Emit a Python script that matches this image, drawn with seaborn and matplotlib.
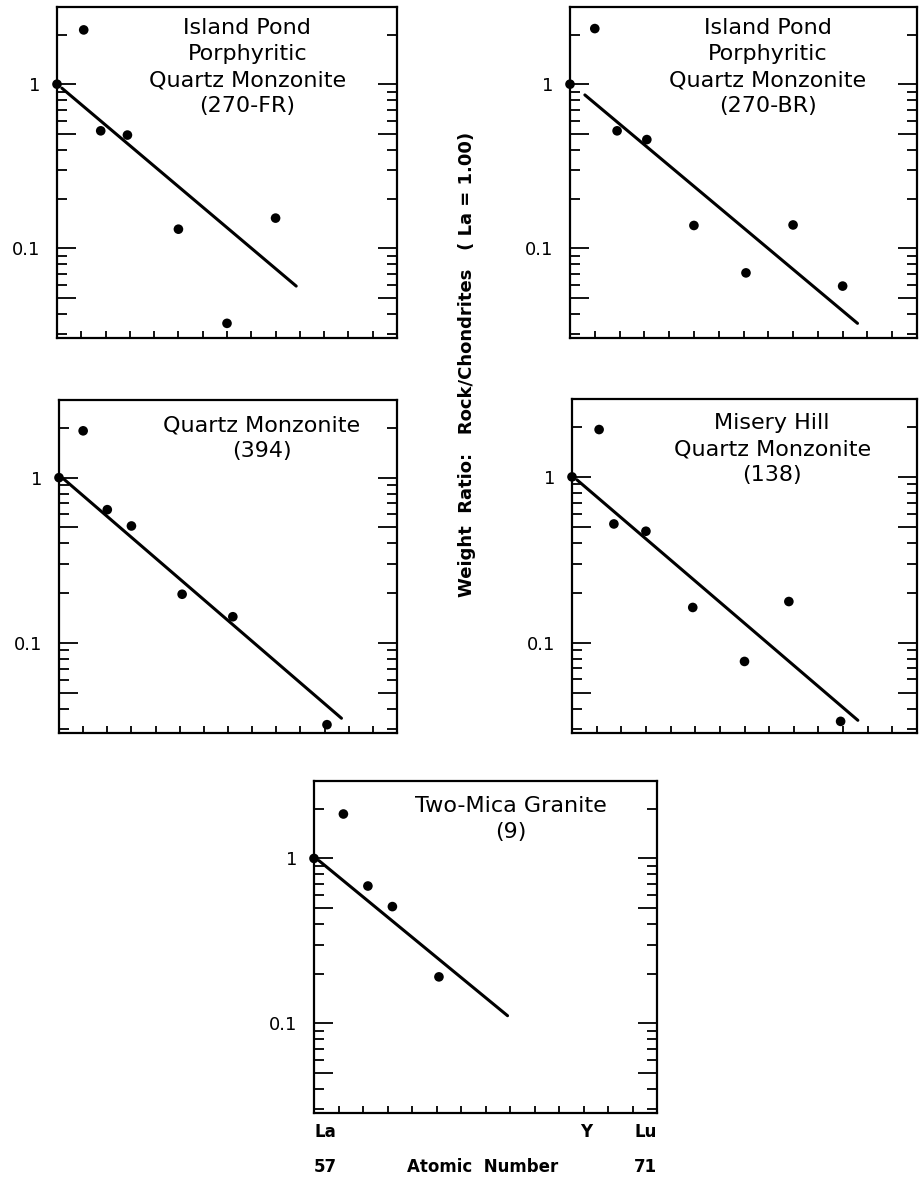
"""
REE plots: chondrite-normalised weight ratio (La = 1.00) for five granite samples.
"""
import matplotlib
matplotlib.use("Agg")
import matplotlib.pyplot as plt
import seaborn as sns
from matplotlib.ticker import FixedLocator, FuncFormatter, NullFormatter

# ─────────────────────────────────────────────────────────────────
# DATE
# ─────────────────────────────────────────────────────────────────
fr_x = [57.0, 58.1, 58.8, 59.9, 62.0, 64.0, 66.0]
fr_y = [1.0, 2.14, 0.52, 0.49, 0.131, 0.035, 0.153]
fr_fit_x = [57.2, 66.85]
fr_fit_y = [0.946, 0.059]

br_x = [57.0, 58.0, 58.9, 60.1, 62.0, 64.1, 66.0, 68.0]
br_y = [1.0, 2.18, 0.52, 0.46, 0.138, 0.071, 0.139, 0.059]
br_fit_x = [57.6, 68.6]
br_fit_y = [0.86, 0.035]

qm_x = [57.0, 58.0, 59.0, 60.0, 62.1, 64.2, 68.1]
qm_y = [1.0, 1.92, 0.64, 0.51, 0.197, 0.144, 0.032]
qm_fit_x = [57.2, 68.7]
qm_fit_y = [0.98, 0.035]

mh_x = [57.0, 58.1, 58.7, 60.0, 61.9, 64.0, 65.8, 67.9]
mh_y = [1.0, 1.93, 0.52, 0.47, 0.163, 0.077, 0.177, 0.0335]
mh_fit_x = [57.2, 68.6]
mh_fit_y = [0.96, 0.034]

tm_x = [57.0, 58.2, 59.2, 60.2, 62.1]
tm_y = [1.0, 1.86, 0.68, 0.51, 0.191]
tm_fit_x = [57.2, 64.9]
tm_fit_y = [0.97, 0.111]

titles = [
    "Island Pond\nPorphyritic\nQuartz Monzonite\n(270-FR)",
    "Island Pond\nPorphyritic\nQuartz Monzonite\n(270-BR)",
    "Quartz Monzonite\n(394)",
    "Misery Hill\nQuartz Monzonite\n(138)",
    "Two-Mica Granite\n(9)",
]

y_major = [0.05, 0.1, 0.5, 1.0]
y_minor = [0.03, 0.04, 0.06, 0.07, 0.08, 0.09,
           0.2, 0.3, 0.4, 0.6, 0.7, 0.8, 0.9, 2.0]
y_labels = {0.1: "0.1", 1.0: "1"}

# ─────────────────────────────────────────────────────────────────
# STIL
# ─────────────────────────────────────────────────────────────────
sns.set_style("ticks")
plt.rcParams["font.family"] = ["DejaVu Sans"]
plt.rcParams.update({
    "text.color": "black",
    "axes.edgecolor": "black",
    "xtick.color": "black",
    "ytick.color": "black",
    "axes.labelcolor": "black",
})

W, H = 922, 1181
fig = plt.figure(figsize=(W / 100, H / 100), dpi=100)

# (stanga, sus, dreapta, jos) in pixeli
boxes = [
    (57, 7, 397, 338),
    (570, 7, 917, 338),
    (59, 400, 397, 733),
    (572, 399, 917, 733),
    (314, 781, 657, 1113),
]
title_pos = [(0.56, 11), (0.57, 11), (0.60, 15), (0.58, 14), (0.575, 15)]

panels = [
    (fr_x, fr_y, fr_fit_x, fr_fit_y),
    (br_x, br_y, br_fit_x, br_fit_y),
    (qm_x, qm_y, qm_fit_x, qm_fit_y),
    (mh_x, mh_y, mh_fit_x, mh_fit_y),
    (tm_x, tm_y, tm_fit_x, tm_fit_y),
]

for i, ((l, t, r, b), (px, py, lx, ly)) in enumerate(zip(boxes, panels)):
    ax = fig.add_axes([l / W, 1 - b / H, (r - l) / W, (b - t) / H])
    ax.set_yscale("log")
    ax.set_xlim(57, 71)
    ax.set_ylim(0.0285, 2.95)

    sns.lineplot(x=lx, y=ly, ax=ax, color="black", lw=2.2)
    sns.scatterplot(x=px, y=py, ax=ax, color="black", s=48,
                    edgecolor="none", clip_on=False, zorder=5)

    ax.yaxis.set_major_locator(FixedLocator(y_major))
    ax.yaxis.set_minor_locator(FixedLocator(y_minor))
    ax.yaxis.set_major_formatter(FuncFormatter(lambda v, p: y_labels.get(round(v, 3), "")))
    ax.yaxis.set_minor_formatter(NullFormatter())
    ax.tick_params(axis="y", which="major", direction="in", length=14, width=1.3,
                   left=True, right=True, labelsize=13, pad=12)
    ax.tick_params(axis="y", which="minor", direction="in", length=7, width=1.3,
                   left=True, right=True)

    ax.set_xticks(range(58, 71))
    ax.tick_params(axis="x", which="major", direction="in", length=5, width=1.3,
                   bottom=True, top=False, labelbottom=False)
    ax.xaxis.set_minor_locator(FixedLocator([]))

    for sp in ax.spines.values():
        sp.set_linewidth(1.6)
        sp.set_visible(True)
    ax.set_xlabel("")
    ax.set_ylabel("")

    cx, dy = title_pos[i]
    ax.text(cx, 1 - dy / (b - t), titles[i], transform=ax.transAxes,
            ha="center", va="top", fontsize=16, linespacing=1.38)

    if i == 4:
        tr = ax.get_xaxis_transform()
        kw = dict(transform=tr, fontsize=12, fontweight="bold", va="center")
        ax.text(57, -0.057, "La", ha="left", **kw)
        ax.text(68.1, -0.057, "Y", ha="center", **kw)
        ax.text(71, -0.057, "Lu", ha="right", **kw)
        ax.text(57, -0.163, "57", ha="left", **kw)
        ax.text(63.9, -0.163, "Atomic  Number", ha="center", **kw)
        ax.text(71, -0.163, "71", ha="right", **kw)

fig.text(467 / W, 1 - 364 / H,
         "Weight  Ratio:   Rock/Chondrites   ( La = 1.00)",
         rotation=90, ha="center", va="center", fontsize=13, fontweight="bold")

fig.savefig("out.png", dpi=100)
